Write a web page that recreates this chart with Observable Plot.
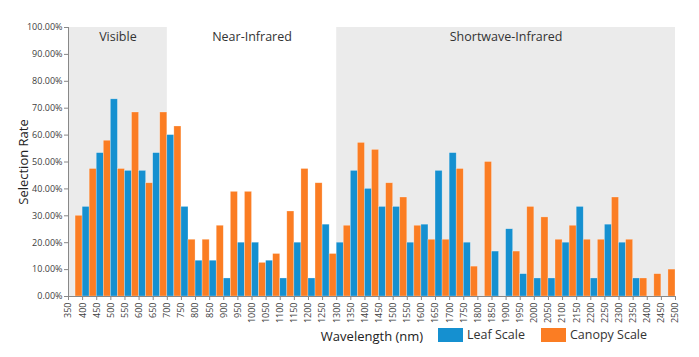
<!DOCTYPE html>
<html>
<head>
<meta charset="utf-8">
<script src="https://cdn.jsdelivr.net/npm/d3@7"></script>
<script src="https://cdn.jsdelivr.net/npm/@observablehq/plot@0.6"></script>
<style>
  body { margin: 0; background: #fff; font-family: "Open Sans", sans-serif; }
  #wrap { position: relative; width: 699px; height: 357px; }
  #legend { position: absolute; top: 326px; left: 438px; display: flex; align-items: center; font-size: 12.5px; color: #333; }
  .sw { display: inline-block; width: 25px; height: 14px; margin-right: 4px; }
  .item { display: flex; align-items: center; margin-right: 16px; }
</style>
</head>
<body>
<div id="wrap"><div id="legend"></div></div>
<script>
// Interval start wavelengths (nm)
const wavelengths = [350,400,450,500,550,600,650,700,750,800,850,900,950,1000,1050,1100,1150,1200,1250,1300,1350,1400,1450,1500,1550,1600,1650,1700,1750,1800,1850,1900,1950,2000,2050,2100,2150,2200,2250,2300,2350,2400,2450];
// Selection rate (%)
const leafScale = [0,33.3,53.3,73.3,46.7,46.7,53.3,60,33.3,13.3,13.3,6.7,20,20,13.3,6.7,20,6.7,26.7,20,46.7,40,33.3,33.3,20,26.7,46.7,53.3,20,0,16.7,25,8.3,6.7,6.7,20,33.3,6.7,26.7,20,6.7,0,0];
const canopyScale = [30,47.4,57.9,47.4,68.4,42.1,68.4,63.2,21.1,21.1,26.3,38.9,38.9,12.5,15.8,31.6,47.4,42.1,15.8,26.3,57.1,54.5,42.1,36.8,26.3,21.1,21.1,47.4,11.1,50,0,16.7,33.3,29.4,21.1,26.3,21.1,21.1,36.8,21.1,6.7,8.3,10];
const tickValues = [350,400,450,500,550,600,650,700,750,800,850,900,950,1000,1050,1100,1150,1200,1250,1300,1350,1400,1450,1500,1550,1600,1650,1700,1750,1800,1850,1900,1950,2000,2050,2100,2150,2200,2250,2300,2350,2400,2450,2500];
const regionNames = ["Visible", "Near-Infrared", "Shortwave-Infrared"];
const regionStart = [350, 700, 1300];
const regionEnd = [700, 1300, 2500];
const regionShaded = [true, false, true];
const seriesNames = ["Leaf Scale", "Canopy Scale"];
const seriesColors = ["#1590d0", "#fb7d23"];

const regions = regionNames.map((name, i) => ({name, x1: regionStart[i], x2: regionEnd[i], shaded: regionShaded[i]}));
const step = 50;
const bars = [];
wavelengths.forEach((w, i) => {
  bars.push({series: seriesNames[0], x1: w, x2: w + step / 2, v: leafScale[i] / 100});
  bars.push({series: seriesNames[1], x1: w + step / 2, x2: w + step, v: canopyScale[i] / 100});
});

const chart = Plot.plot({
  width: 699,
  height: 357,
  marginLeft: 68,
  marginRight: 24,
  marginTop: 27,
  marginBottom: 61,
  style: {fontFamily: "Open Sans, sans-serif", background: "transparent"},
  x: {type: "linear", domain: [350, 2500]},
  y: {domain: [0, 1]},
  color: {domain: seriesNames, range: seriesColors},
  marks: [
    Plot.rect(regions.filter(d => d.shaded), {x1: "x1", x2: "x2", y1: 0, y2: 1, fill: "#ebebeb"}),
    Plot.text(regions, {x: d => (d.x1 + d.x2) / 2, y: 1, text: "name", dy: 9, fontSize: 12.5, fill: "#333"}),
    Plot.rectY(bars, {x1: "x1", x2: "x2", y: "v", fill: "series", stroke: "#ffffff", strokeOpacity: 0.45, strokeWidth: 0.6, inset: 0}),
    Plot.ruleY([0], {stroke: "#888"}),
    Plot.ruleX([350], {y1: 0, y2: 1, stroke: "#888"}),
    Plot.axisY({ticks: d3.range(0, 1.0001, 0.1), tickFormat: d3.format(".2%"), tickSize: 4, tickPadding: 2, fontSize: 9, color: "#404040", stroke: "#888", label: "Selection Rate", labelAnchor: "center", labelArrow: false, labelOffset: 50}),
    Plot.axisX({ticks: tickValues, tickFormat: d => String(d), tickRotate: -90, tickSize: 4, tickPadding: 2, fontSize: 9, color: "#404040", stroke: "#888", label: "Wavelength (nm)", labelAnchor: "center", labelArrow: false, labelOffset: 44})
  ]
});
chart.querySelectorAll("g[aria-label='y-axis label'] text, g[aria-label='x-axis label'] text").forEach(t => {
  t.setAttribute("font-size", "13"); t.style.fontSize = "13px"; t.setAttribute("fill", "#222");
});
document.getElementById("wrap").prepend(chart);

const legend = document.getElementById("legend");
seriesNames.forEach((name, i) => {
  const item = document.createElement("div");
  item.className = "item";
  item.innerHTML = `<span class="sw" style="background:${seriesColors[i]}"></span><span>${name}</span>`;
  legend.appendChild(item);
});
</script>
</body>
</html>
